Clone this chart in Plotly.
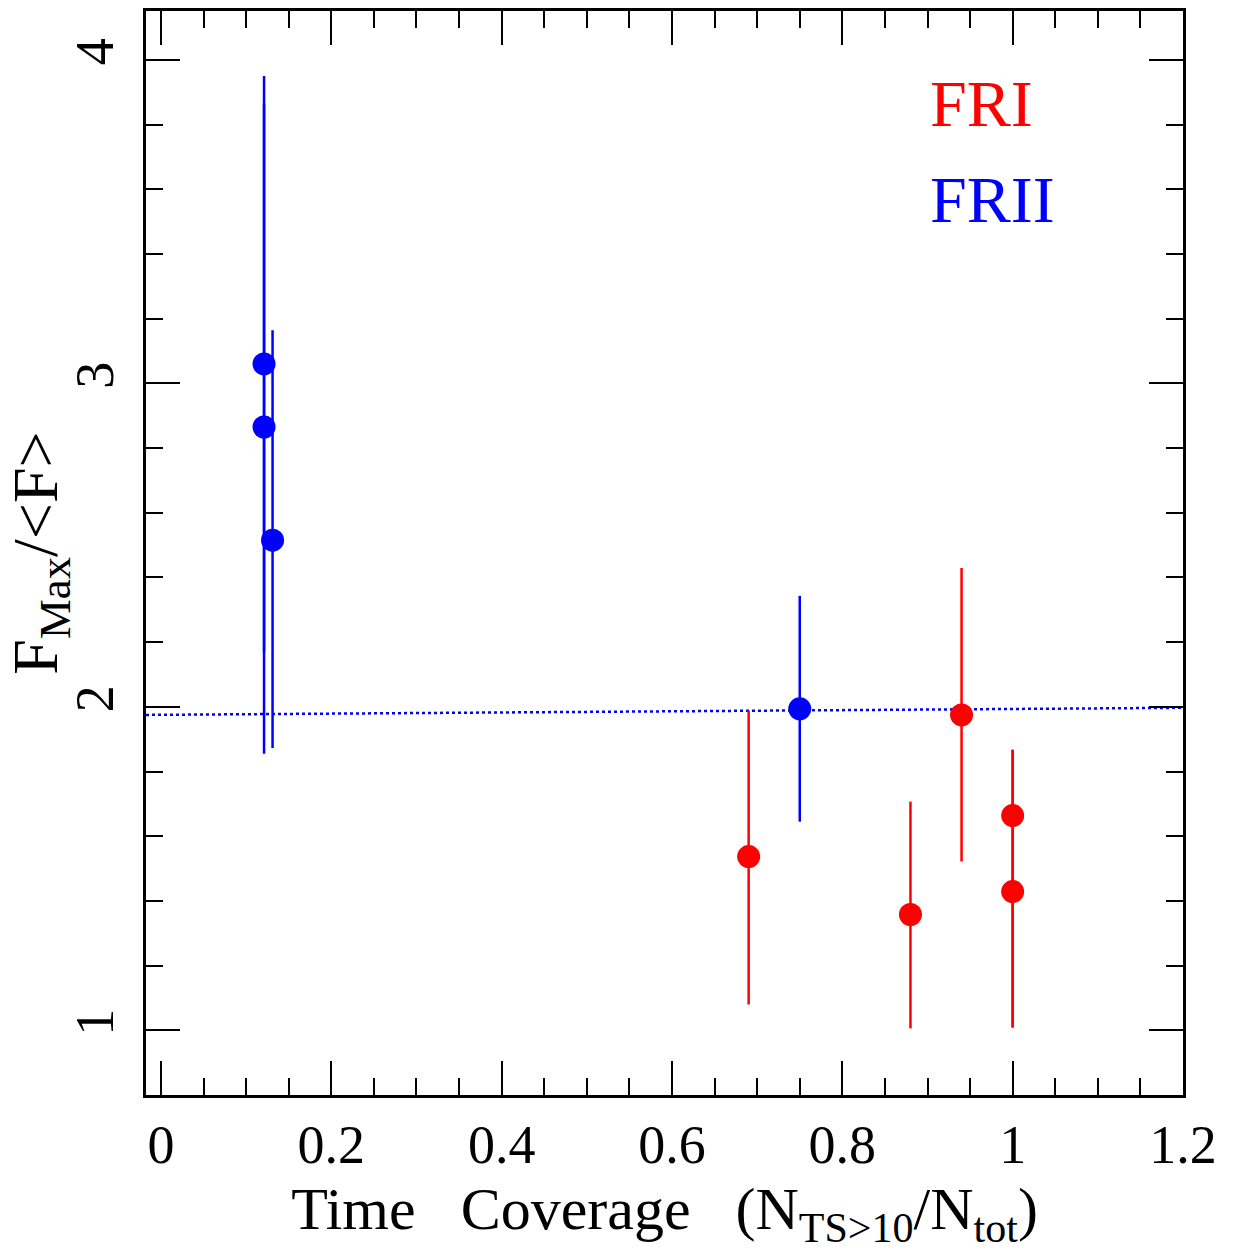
import plotly.graph_objects as go

# FRI sources: time coverage vs. peak-to-mean flux ratio
fri_cov = [0.690, 0.880, 0.940, 1.000, 1.000]
fri_ratio = [1.537, 1.358, 1.975, 1.664, 1.429]
fri_err_up = [0.451, 0.349, 0.454, 0.203, 0.438]
fri_err_dn = [0.457, 0.352, 0.453, 0.655, 0.420]

# FRII sources
frii_cov = [0.121, 0.121, 0.131, 0.750]
frii_ratio = [3.060, 2.865, 2.515, 1.994]
frii_err_up = [0.890, 0.999, 0.649, 0.349]
frii_err_dn = [0.890, 1.010, 0.642, 0.349]

# Dotted reference line across the panel
ref_x = [-0.0176, 1.2]
ref_y = [1.975, 1.997]

FONT = "Liberation Serif"
RED = "#ff0000"
BLUE = "#0000ff"

fig = go.Figure()

fig.add_trace(go.Scatter(
    x=ref_x, y=ref_y, mode="lines",
    line=dict(color=BLUE, width=2.5, dash="dot"),
    hoverinfo="skip", showlegend=False,
))

fig.add_trace(go.Scatter(
    x=frii_cov, y=frii_ratio, mode="markers",
    marker=dict(color=BLUE, size=23),
    error_y=dict(type="data", array=frii_err_up, arrayminus=frii_err_dn,
                 color=BLUE, thickness=2.5, width=0),
    showlegend=False,
))

fig.add_trace(go.Scatter(
    x=fri_cov, y=fri_ratio, mode="markers",
    marker=dict(color=RED, size=23),
    error_y=dict(type="data", array=fri_err_up, arrayminus=fri_err_dn,
                 color=RED, thickness=2.5, width=0),
    showlegend=False,
))

fig.add_annotation(x=0.754, y=0.915, xref="paper", yref="paper",
                   text="FRI", showarrow=False, xanchor="left", yanchor="middle",
                   font=dict(family=FONT, size=66, color=RED))
fig.add_annotation(x=0.754, y=0.826, xref="paper", yref="paper",
                   text="FRII", showarrow=False, xanchor="left", yanchor="middle",
                   font=dict(family=FONT, size=66, color=BLUE))

axis_common = dict(
    showline=True, linecolor="black", linewidth=3, mirror="ticks",
    ticks="inside", tickcolor="black", tickwidth=2, ticklen=34,
    showgrid=False, zeroline=False,
    tickfont=dict(family=FONT, size=54, color="black"),
)

fig.update_xaxes(
    range=[-0.0176, 1.2], dtick=0.2, tick0=0,
    minor=dict(dtick=0.05, ticks="inside", ticklen=17, tickwidth=2, tickcolor="black", showgrid=False),
    title=dict(text="Time   Coverage   (N<sub>TS>10</sub>/N<sub>tot</sub>)",
               font=dict(family=FONT, size=60, color="black"), standoff=14),
    ticklabelstandoff=0,
    **axis_common,
)

fig.update_yaxes(
    range=[0.80, 4.151], dtick=1, tick0=0,
    minor=dict(dtick=0.2, ticks="inside", ticklen=17, tickwidth=2, tickcolor="black", showgrid=False),
    tickangle=-90,
    ticklabelstandoff=8,
    title=dict(text="F<sub>Max</sub>/&lt;F&gt;",
               font=dict(family=FONT, size=64, color="black"), standoff=0),
    **axis_common,
)

fig.update_layout(
    width=1233, height=1260,
    margin=dict(l=146, r=50, t=8, b=165),
    paper_bgcolor="white", plot_bgcolor="white",
)

fig.write_html("out.html")
